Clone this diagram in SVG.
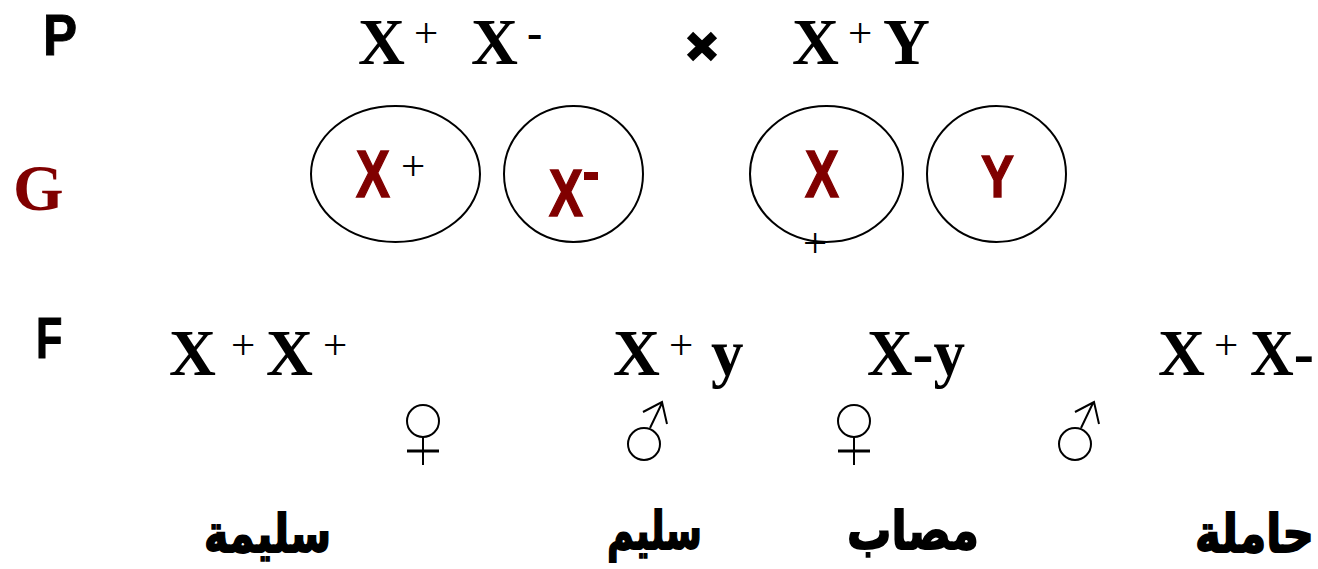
<svg xmlns="http://www.w3.org/2000/svg" width="1318" height="569" viewBox="0 0 1318 569">
<style>
text{white-space:pre}
.x{font:bold 65px "Liberation Serif",serif;fill:#000}
.s{font:43px "Liberation Serif",serif;fill:#000}
.m{font:bold 46px "Liberation Serif",serif;fill:#000}
.n{font:bold 60px "Liberation Sans",sans-serif;fill:#000;stroke:#000;stroke-width:1}
.q{font:bold 66px "Liberation Sans",sans-serif;fill:#800000;stroke:#800000;stroke-width:1.500}
.r{fill:#800000}
.a{font:bold 44px "DejaVu Sans","Noto Sans",sans-serif;fill:#000;stroke:#000;stroke-width:1.500}
.c{fill:none;stroke:#000;stroke-width:2}
</style>
<rect width="1318" height="569" fill="#fff"/>
<g id="p-row">
<text class="n" transform="translate(43,55) scale(.85,.95)">P</text>
<text class="x" x="358" y="64">X</text><text class="s" x="414" y="47">+</text>
<text class="x" x="471" y="64">X</text><text class="m" x="527" y="48">-</text>
<text class="x" x="792" y="64">X</text><text class="s" x="848" y="47">+</text><text class="x" x="883" y="64">Y</text>
<path d="M690 35L714 58M714 35L690 58" stroke="#000" stroke-width="9" fill="none"/>
</g>
<g id="g-label"><text x="13" y="210" style="font:bold 65px 'Liberation Serif',serif" class="r">G</text></g>
<g id="gamete-1"><ellipse class="c" cx="395.500" cy="174" rx="84.500" ry="68"/>
<text class="q" transform="translate(356,197) scale(.77,1)">X</text><text class="s" x="401" y="180">+</text></g>
<g id="gamete-2"><ellipse class="c" cx="573.500" cy="174" rx="69.500" ry="68"/>
<text class="q" transform="translate(549,216) scale(.77,1)">X</text><rect class="r" x="584" y="172" width="14" height="8"/></g>
<g id="gamete-3"><ellipse class="c" cx="826.500" cy="174" rx="76.500" ry="68"/>
<text class="q" transform="translate(805,197) scale(.77,1)">X</text><text class="s" x="803" y="257">+</text></g>
<g id="gamete-4"><ellipse class="c" cx="996.500" cy="174" rx="69.500" ry="68"/>
<text class="q" transform="translate(981,197) scale(.75,.9)">Y</text></g>
<g id="f-row">
<text class="n" transform="translate(36,358) scale(.72,.95)">F</text>
<text class="x" x="169" y="375">X</text><text class="s" x="231" y="359">+</text><text class="x" x="266" y="375">X</text><text class="s" x="323" y="359">+</text>
<text class="x" x="613" y="375">X</text><text class="s" x="669" y="359">+</text><text class="x" x="711" y="375">y</text>
<text class="x" x="867" y="375" textLength="98" lengthAdjust="spacingAndGlyphs">X-y</text>
<text class="x" x="1158" y="375">X</text><text class="s" x="1214" y="359">+</text><text class="x" x="1250" y="375" textLength="64" lengthAdjust="spacingAndGlyphs">X-</text>
</g>
<g id="symbols">
<g id="female-1" class="c"><ellipse cx="423" cy="421" rx="16" ry="16"/><path d="M423 437V465"/><path d="M407 451H439" stroke-width="3"/></g>
<g id="male-1" class="c"><ellipse cx="644" cy="444" rx="16" ry="16"/><path d="M650 428L662 403M643 412L662 402L667 424"/></g>
<g id="female-2" class="c"><ellipse cx="854" cy="421" rx="16" ry="16"/><path d="M854 437V465"/><path d="M838 451H870" stroke-width="3"/></g>
<g id="male-2" class="c"><ellipse cx="1075" cy="444" rx="16" ry="16"/><path d="M1081 428L1093 403M1075 412L1094 402L1099 424"/></g>
</g>
<g id="labels">
<text class="a" transform="translate(204,552) scale(1,1.2)" textLength="127" lengthAdjust="spacingAndGlyphs">سليمة</text>
<text class="a" transform="translate(607,549) scale(1,1.2)" textLength="95" lengthAdjust="spacingAndGlyphs">سليم</text>
<text class="a" transform="translate(847,549) scale(1,1.2)" textLength="132" lengthAdjust="spacingAndGlyphs">مصاب</text>
<text class="a" transform="translate(1195,552) scale(1,1.2)" textLength="119" lengthAdjust="spacingAndGlyphs">حاملة</text>
</g>
</svg>
